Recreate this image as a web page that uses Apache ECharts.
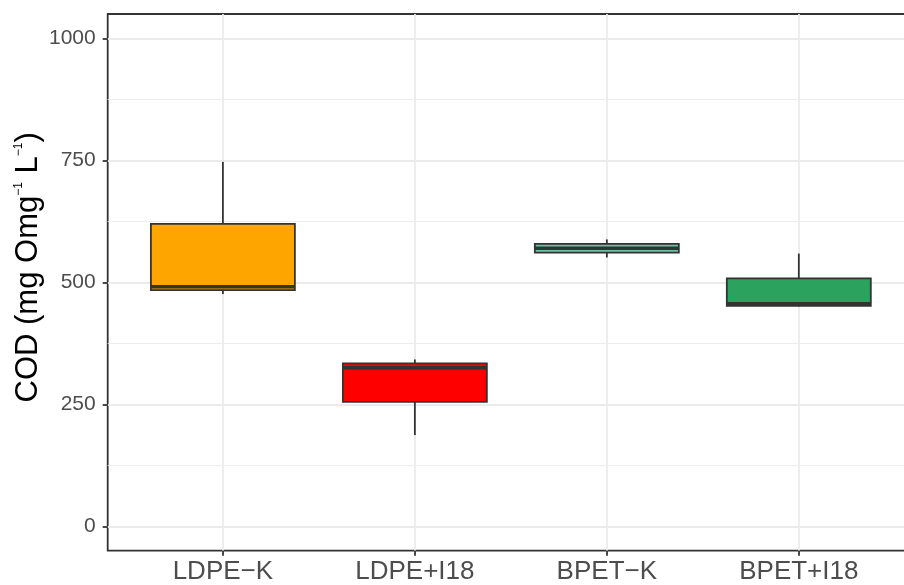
<!DOCTYPE html>
<html>
<head>
<meta charset="utf-8">
<script src="https://cdn.jsdelivr.net/npm/echarts@6/dist/echarts.min.js"></script>
<style>
  html, body { margin: 0; padding: 0; background: #ffffff; }
  #chart { width: 904px; height: 585px; }
</style>
</head>
<body>
<div id="chart"></div>
<script>
// Treatment groups on the x axis
const categories = ['LDPE\u2212K', 'LDPE+I18', 'BPET\u2212K', 'BPET+I18'];
// Five-number summary per group (mg O L^-1)
const whiskerLow  = [476, 187, 551, 451];
const quartile1   = [484, 255, 561, 452];
const medians     = [491, 325, 570, 456];
const quartile3   = [620, 334, 579, 508];
const whiskerHigh = [747, 342, 588, 559];
// Axis breaks
const yTicks = [0, 250, 500, 750, 1000];
const yMinor = [125, 375, 625, 875];
const xTicks = [0, 1, 2, 3];

const fills = ['#FFA500', '#FF0000', '#66C2A5', '#2CA25F'];
const INK = '#333333';
const GRID = '#EBEBEB';
const FONT = '"Liberation Sans", Arial, Helvetica, sans-serif';

const boxData = categories.map((c, i) => [i, whiskerLow[i], quartile1[i], medians[i], quartile3[i], whiskerHigh[i]]);

const chart = echarts.init(document.getElementById('chart'), null, { renderer: 'canvas' });

chart.setOption({
  animation: false,
  backgroundColor: '#ffffff',
  grid: {
    left: 107.7, top: 14, width: 806.3, height: 536.7,
    outerBoundsMode: 'none', containLabel: false,
    show: true, borderColor: INK, borderWidth: 1.8, backgroundColor: 'transparent'
  },
  xAxis: {
    type: 'value', min: -0.6, max: 3.6,
    axisLine: { show: false, onZero: false },
    axisTick: { show: true, customValues: xTicks, length: 5, lineStyle: { color: INK, width: 1.8 } },
    axisLabel: {
      customValues: xTicks, margin: 8,
      formatter: v => categories[Math.round(v)],
      color: '#4D4D4D', fontSize: 26, fontFamily: FONT
    },
    splitLine: { show: true, lineStyle: { color: GRID, width: 1.8 } }
  },
  yAxis: [{
    type: 'value', min: -50, max: 1050,
    axisLine: { show: false, onZero: false },
    axisTick: { show: true, customValues: yTicks, length: 5, lineStyle: { color: INK, width: 1.8 } },
    axisLabel: {
      customValues: yTicks, margin: 12, formatter: v => String(v),
      color: '#4D4D4D', fontSize: 21, fontFamily: FONT
    },
    splitLine: { show: true, lineStyle: { color: GRID, width: 1.8 } },
    name: '{a|COD (mg Omg}{s|\u22121}{a| L}{s|\u22121}{a|)}',
    nameLocation: 'middle', nameRotate: 90, nameGap: 64, nameMoveOverlap: false,
    nameTextStyle: {
      color: '#000000', fontFamily: FONT, padding: [0, 0, 0, 30],
      rich: {
        a: { fontSize: 31, fontFamily: FONT, color: '#000000' },
        s: { fontSize: 12, fontFamily: FONT, color: '#000000', verticalAlign: 'top' }
      }
    }
  }, {
    type: 'value', min: -50, max: 1050, position: 'left',
    axisLine: { show: false, onZero: false },
    axisTick: { show: false, customValues: yMinor },
    axisLabel: { show: false, customValues: yMinor },
    splitLine: { show: true, lineStyle: { color: GRID, width: 0.9 } }
  }],
  series: [{
    type: 'custom',
    xAxisIndex: 0, yAxisIndex: 0,
    data: boxData,
    encode: { x: 0, y: [1, 2, 3, 4, 5] },
    renderItem(params, api) {
      const x = api.value(0);
      const half = 0.375;
      const low = api.coord([x, api.value(1)]);
      const q1 = api.coord([x, api.value(2)]);
      const med = api.coord([x, api.value(3)]);
      const q3 = api.coord([x, api.value(4)]);
      const high = api.coord([x, api.value(5)]);
      const left = api.coord([x - half, api.value(2)])[0];
      const right = api.coord([x + half, api.value(2)])[0];
      const line = { stroke: INK, lineWidth: 1.8 };
      return {
        type: 'group',
        children: [
          { type: 'line', shape: { x1: low[0], y1: low[1], x2: q1[0], y2: q1[1] }, style: line },
          { type: 'line', shape: { x1: q3[0], y1: q3[1], x2: high[0], y2: high[1] }, style: line },
          {
            type: 'rect',
            shape: { x: left, y: q3[1], width: right - left, height: q1[1] - q3[1] },
            style: { fill: fills[params.dataIndex], stroke: INK, lineWidth: 1.8 }
          },
          { type: 'line', shape: { x1: left, y1: med[1], x2: right, y2: med[1] }, style: { stroke: INK, lineWidth: 3.6 } }
        ]
      };
    }
  }]
});
</script>
</body>
</html>
